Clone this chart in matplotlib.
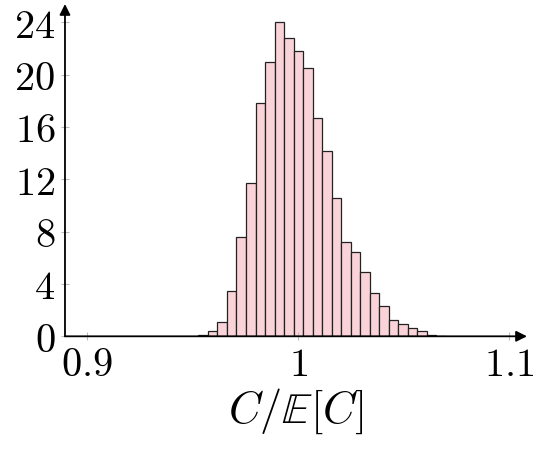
import matplotlib
matplotlib.use("Agg")
from matplotlib import pyplot as plt
import numpy as np

plt.rcParams['mathtext.fontset'] = 'cm'
plt.rcParams['font.family'] = 'serif'
plt.rcParams['font.serif'] = ['DejaVu Serif']

# histogram (density)
bin_start = 0.9527
bin_width = 0.00451
heights = [0.1, 0.43, 1.12, 3.5, 7.62, 11.72, 17.86, 20.95, 24.05, 22.8,
           21.81, 20.49, 16.67, 14.2, 10.55, 7.23, 6.47, 4.94, 3.33, 2.3,
           1.28, 0.95, 0.61, 0.41, 0.08, 0.05]
edges = bin_start + bin_width * np.arange(len(heights) + 1)

xticks = [0.9, 1.0, 1.1]
xticklabels = ['$0.9$', '$1$', '$1.1$']
yticks = [0, 4, 8, 12, 16, 20, 24]

fig = plt.figure(figsize=(5.47, 4.56), dpi=100)
ax = fig.add_axes([0.1188, 0.2603, 0.8446, 0.7287])

ax.hist(edges[:-1], bins=edges, weights=heights, facecolor='#fad3d8',
        edgecolor='#222222', linewidth=0.9)

ax.set_xlim(0.8894, 1.1085)
ax.set_ylim(0, 25.4)
for s in ax.spines.values():
    s.set_visible(False)

# axis lines with arrow heads
ax.annotate('', xy=(1, 0), xytext=(0, 0), xycoords='axes fraction',
            arrowprops=dict(arrowstyle='-|>', color='black', lw=1.3,
                            mutation_scale=16, shrinkA=0, shrinkB=0))
ax.annotate('', xy=(0, 1), xytext=(0, 0), xycoords='axes fraction',
            arrowprops=dict(arrowstyle='-|>', color='black', lw=1.3,
                            mutation_scale=16, shrinkA=0, shrinkB=0))

ax.set_xticks(xticks)
ax.set_xticklabels(xticklabels)
ax.set_yticks(yticks)
ax.set_yticklabels(['$%d$' % v for v in yticks])
ax.tick_params(direction='inout', length=6, width=0.8, color='#bbbbbb',
               labelsize=29, pad=4)

ax.set_xlabel(r'$C/\mathbb{E}[C]$', fontsize=32, labelpad=2)

fig.savefig('out.png', dpi=100)
